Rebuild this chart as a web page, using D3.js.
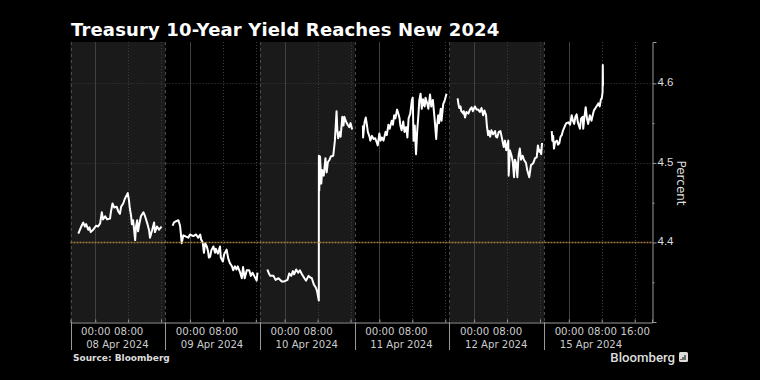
<!DOCTYPE html>
<html>
<head>
<meta charset="utf-8">
<script src="https://cdn.jsdelivr.net/npm/d3@7"></script>
<style>
  html, body { margin: 0; padding: 0; background: #000; }
  svg { display: block; }
  text { font-family: "DejaVu Sans", sans-serif; }
</style>
</head>
<body>
<div id="chart-container"></div>
<script>
// Session labels, one per trading day
const dayLabels = ["08 Apr 2024", "09 Apr 2024", "10 Apr 2024", "11 Apr 2024", "12 Apr 2024", "15 Apr 2024"];
const sessionHours = 23; // a session runs 18:00 to 17:00
const lastHour = 141.2;

// Tick positions as hours after the session open
const clockTicks = [[6, "00:00"], [14, "08:00"], [22, "16:00"]];
const yTicks = [4.4, 4.5, 4.6];
const yMinorTicks = [4.35, 4.45, 4.55];
const referenceYield = 4.4;

// Yield readings per session: [hours after open, percent]
const apr08 = [[1.9,4.411],[2.2,4.415],[2.7,4.421],[3.1,4.425],[3.5,4.420],[3.8,4.423],[4.3,4.416],[4.6,4.419],[4.9,4.413],[5.5,4.416],[6.2,4.421],[6.7,4.420],[7.2,4.424],[7.6,4.438],[7.9,4.429],[8.4,4.433],[8.9,4.429],[9.6,4.430],[9.8,4.438],[10.2,4.449],[10.6,4.444],[11.2,4.445],[11.6,4.439],[12.0,4.436],[12.3,4.445],[12.8,4.449],[13.2,4.455],[13.9,4.462],[14.2,4.453],[14.4,4.443],[14.7,4.434],[14.9,4.423],[15.2,4.428],[15.7,4.403],[15.9,4.420],[16.2,4.428],[16.4,4.414],[16.6,4.420],[17.1,4.433],[17.7,4.438],[18.1,4.433],[18.7,4.423],[19.1,4.415],[19.3,4.406],[19.8,4.415],[20.3,4.425],[20.5,4.413],[21.0,4.420],[21.5,4.416],[22.1,4.420]];
const apr09 = [[1.8,4.421],[2.1,4.425],[2.4,4.426],[3.2,4.428],[3.6,4.421],[3.8,4.411],[4.0,4.399],[4.4,4.409],[4.8,4.408],[5.6,4.406],[6.0,4.410],[6.8,4.408],[7.5,4.410],[8.0,4.406],[8.5,4.410],[8.7,4.404],[9.1,4.400],[9.4,4.387],[9.7,4.399],[10.1,4.395],[10.4,4.389],[10.6,4.381],[10.9,4.382],[11.2,4.390],[11.7,4.395],[12.1,4.387],[12.3,4.392],[12.8,4.386],[13.3,4.395],[13.5,4.381],[14.0,4.376],[14.3,4.385],[14.9,4.391],[15.3,4.380],[15.7,4.374],[16.2,4.370],[16.5,4.365],[16.9,4.370],[17.3,4.366],[17.6,4.370],[18.2,4.362],[18.6,4.355],[18.9,4.369],[19.3,4.355],[19.8,4.365],[20.4,4.365],[20.8,4.358],[21.2,4.362],[21.6,4.358],[22.2,4.352],[22.4,4.362]];
const apr10 = [[1.8,4.366],[2.1,4.362],[2.5,4.358],[3.3,4.358],[3.8,4.353],[4.5,4.355],[5.3,4.351],[5.9,4.351],[6.3,4.352],[6.7,4.353],[7.1,4.361],[7.6,4.358],[8.0,4.364],[8.3,4.360],[8.8,4.366],[9.3,4.362],[9.7,4.365],[10.2,4.360],[10.8,4.355],[11.2,4.352],[11.8,4.358],[12.2,4.356],[12.6,4.355],[13.1,4.347],[13.6,4.343],[13.9,4.338],[14.3,4.327],[14.31,4.509],[14.4,4.465],[14.6,4.508],[14.9,4.474],[15.1,4.491],[15.5,4.484],[15.9,4.506],[16.2,4.488],[16.5,4.501],[16.9,4.504],[17.2,4.508],[17.8,4.509],[18.2,4.528],[18.6,4.565],[18.8,4.541],[19.0,4.531],[19.4,4.539],[19.6,4.533],[20.0,4.558],[20.3,4.547],[20.5,4.558],[20.9,4.552],[21.3,4.548],[21.7,4.545],[22.0,4.550],[22.4,4.542]];
const apr11 = [[2.0,4.547],[2.05,4.532],[2.4,4.551],[2.7,4.557],[3.0,4.547],[3.2,4.539],[3.6,4.533],[3.8,4.528],[4.2,4.534],[4.6,4.530],[5.0,4.531],[5.4,4.525],[5.6,4.522],[6.0,4.537],[6.3,4.528],[6.6,4.532],[7.0,4.528],[7.5,4.539],[7.8,4.535],[8.2,4.548],[8.5,4.543],[9.0,4.553],[9.3,4.548],[9.6,4.560],[9.9,4.556],[10.3,4.567],[10.6,4.562],[10.9,4.556],[11.1,4.547],[11.4,4.541],[11.8,4.552],[12.1,4.539],[12.5,4.545],[12.8,4.532],[13.1,4.556],[13.5,4.562],[13.9,4.579],[14.1,4.582],[14.3,4.528],[14.6,4.547],[14.9,4.511],[15.2,4.541],[15.5,4.562],[15.7,4.579],[16.0,4.587],[16.3,4.568],[16.6,4.580],[17.0,4.571],[17.2,4.582],[17.6,4.575],[17.9,4.568],[18.3,4.586],[18.6,4.571],[19.0,4.579],[19.4,4.556],[19.8,4.530],[20.0,4.547],[20.3,4.560],[20.5,4.550],[20.9,4.568],[21.1,4.553],[21.5,4.574],[21.9,4.579],[22.3,4.587]];
const apr12 = [[2.0,4.581],[2.2,4.574],[2.4,4.569],[2.7,4.571],[2.9,4.565],[3.4,4.562],[3.5,4.565],[3.8,4.557],[4.15,4.564],[4.6,4.562],[5.0,4.567],[5.4,4.570],[5.7,4.565],[6.2,4.571],[6.6,4.567],[7.0,4.567],[7.4,4.564],[7.8,4.569],[8.2,4.560],[8.5,4.566],[8.9,4.560],[9.1,4.547],[9.4,4.535],[9.6,4.540],[9.9,4.533],[10.2,4.541],[10.6,4.536],[11.1,4.540],[11.3,4.533],[11.6,4.532],[12.0,4.539],[12.4,4.540],[12.8,4.530],[13.2,4.520],[13.5,4.528],[13.8,4.516],[14.3,4.528],[14.4,4.484],[14.7,4.516],[15.1,4.509],[15.4,4.501],[15.7,4.482],[15.9,4.504],[16.2,4.500],[16.5,4.482],[16.8,4.509],[17.1,4.518],[17.4,4.504],[17.8,4.509],[18.1,4.504],[18.6,4.500],[18.9,4.491],[19.4,4.482],[19.8,4.497],[20.4,4.500],[20.8,4.506],[21.2,4.507],[21.5,4.522],[21.8,4.514],[22.0,4.516],[22.3,4.511],[22.5,4.525]];
const apr15 = [[1.85,4.540],[2.0,4.528],[2.2,4.534],[2.4,4.518],[2.65,4.526],[3.1,4.528],[3.4,4.523],[3.7,4.525],[4.0,4.533],[4.3,4.535],[4.6,4.541],[5.1,4.547],[5.4,4.550],[5.9,4.551],[6.3,4.548],[6.7,4.560],[7.0,4.553],[7.3,4.549],[7.6,4.558],[7.9,4.561],[8.2,4.551],[8.7,4.543],[9.0,4.556],[9.4,4.558],[9.5,4.543],[9.8,4.558],[10.1,4.570],[10.4,4.556],[10.7,4.549],[11.1,4.560],[11.5,4.553],[11.9,4.562],[12.1,4.566],[12.6,4.570],[13.2,4.575],[13.5,4.571],[13.8,4.580],[14.0,4.581],[14.2,4.589],[14.25,4.623],[14.3,4.597]];
const sessions = [apr08, apr09, apr10, apr11, apr12, apr15];

const width = 760, height = 380;
const margin = { top: 42, right: 108, bottom: 58, left: 70.5 };
const innerRight = width - margin.right;
const innerBottom = height - margin.bottom;

const svg = d3.select("#chart-container").append("svg")
  .attr("width", width)
  .attr("height", height)
  .style("background", "#000");

const x = d3.scaleLinear().domain([0, lastHour]).range([margin.left, innerRight]);
const y = d3.scaleLinear().domain([4.30, 4.652]).range([innerBottom, margin.top]);

// Title
svg.append("text")
  .attr("x", 71)
  .attr("y", 36)
  .attr("fill", "#fff")
  .attr("font-size", 18)
  .attr("font-weight", "bold")
  .attr("letter-spacing", 0.15)
  .text("Treasury 10-Year Yield Reaches New 2024");

// Shaded alternate sessions
svg.append("g").selectAll("rect")
  .data(dayLabels.map((d, i) => i).filter(i => i % 2 === 0))
  .enter().append("rect")
  .attr("x", i => x(i * sessionHours))
  .attr("y", margin.top)
  .attr("width", i => x((i + 1) * sessionHours) - x(i * sessionHours))
  .attr("height", innerBottom - margin.top)
  .attr("fill", "#1a1a1a");

// Vertical grid lines
const allTicks = dayLabels.flatMap((d, i) =>
  clockTicks.map(t => ({ hour: i * sessionHours + t[0], label: t[1], day: i })));

svg.append("g").selectAll("line")
  .data(allTicks)
  .enter().append("line")
  .attr("x1", d => Math.round(x(d.hour)) + 0.5)
  .attr("x2", d => Math.round(x(d.hour)) + 0.5)
  .attr("y1", margin.top)
  .attr("y2", innerBottom)
  .attr("stroke", d => d.label === "00:00" ? "#404040" : "#3c3c3c")
  .attr("stroke-width", 1)
  .attr("stroke-dasharray", d => d.label === "00:00" ? null : "1,2");

// Session separators, dashed inside the plot and solid below it
svg.append("g").selectAll("line")
  .data(dayLabels.map((d, i) => i))
  .enter().append("line")
  .attr("x1", i => Math.round(x(i * sessionHours)) + 0.5)
  .attr("x2", i => Math.round(x(i * sessionHours)) + 0.5)
  .attr("y1", margin.top)
  .attr("y2", innerBottom)
  .attr("stroke", "#4a4a4a")
  .attr("stroke-dasharray", "3,3");

// Horizontal grid lines
svg.append("g").selectAll("line")
  .data(yTicks.filter(d => d !== referenceYield))
  .enter().append("line")
  .attr("x1", margin.left)
  .attr("x2", innerRight)
  .attr("y1", d => Math.round(y(d)) + 0.5)
  .attr("y2", d => Math.round(y(d)) + 0.5)
  .attr("stroke", "#3c3c3c")
  .attr("stroke-dasharray", "1,2");

// Yield line, one path per session so the gaps stay open
const line = d3.line()
  .x(d => d.x)
  .y(d => y(d.v));

svg.append("g").selectAll("path")
  .data(sessions.map((s, i) => s.map(d => ({ x: x(i * sessionHours + d[0]), v: d[1] }))))
  .enter().append("path")
  .attr("d", line)
  .attr("fill", "none")
  .attr("stroke", "#fff")
  .attr("stroke-width", 2)
  .attr("stroke-linejoin", "round");

// Reference level
svg.append("line")
  .attr("x1", margin.left)
  .attr("x2", innerRight)
  .attr("y1", Math.round(y(referenceYield)) + 0.5)
  .attr("y2", Math.round(y(referenceYield)) + 0.5)
  .attr("stroke", "#a87d3f")
  .attr("stroke-width", 1.5)
  .attr("stroke-dasharray", "2,1");

// Right axis
const yAxis = svg.append("g")
  .attr("transform", `translate(${innerRight + 0.5},0)`)
  .call(d3.axisRight(y).tickValues(yTicks).tickSize(4).tickPadding(1).tickFormat(d3.format(".1f")));
yAxis.selectAll("text")
  .attr("font-size", 11.5)
  .attr("fill", "#ddd")
  .attr("dy", "0.2em")
  .style("font-family", '"Liberation Sans", sans-serif');
yAxis.selectAll("line").attr("stroke", "#999");
yAxis.select(".domain").attr("stroke", "#999");

svg.append("g")
  .attr("transform", `translate(${innerRight + 0.5},0)`)
  .call(d3.axisRight(y).tickValues(yMinorTicks).tickSize(2).tickFormat(""))
  .call(g => g.select(".domain").remove())
  .selectAll("line").attr("stroke", "#999");

svg.append("text")
  .attr("transform", `translate(677,183) rotate(90)`)
  .attr("text-anchor", "middle")
  .attr("fill", "#ddd")
  .attr("font-size", 12)
  .text("Percent");

// Bottom axis: clock labels come from the axis, date labels sit under them
const visibleLabel = d => d.label !== "16:00" || d.day === dayLabels.length - 1;
const xAxis = svg.append("g")
  .attr("transform", `translate(0,${innerBottom + 0.5})`)
  .call(d3.axisBottom(x)
    .tickValues(allTicks.map(d => d.hour))
    .tickSize(-3)
    .tickPadding(5)
    .tickFormat((h, i) => visibleLabel(allTicks[i]) ? allTicks[i].label : ""));
xAxis.selectAll("text").attr("font-size", 10.2).attr("fill", "#ccc").style("font-family", '"DejaVu Sans", sans-serif');
xAxis.selectAll("line").attr("stroke", "#999");
xAxis.select(".domain").attr("stroke", "#999");

svg.append("g").selectAll("line")
  .data(dayLabels.map((d, i) => i))
  .enter().append("line")
  .attr("x1", i => Math.round(x(i * sessionHours)) + 0.5)
  .attr("x2", i => Math.round(x(i * sessionHours)) + 0.5)
  .attr("y1", innerBottom)
  .attr("y2", 350)
  .attr("stroke", "#999");

svg.append("g").selectAll("text")
  .data(dayLabels)
  .enter().append("text")
  .attr("x", (d, i) => x(i * sessionHours + sessionHours / 2) - 0.5)
  .attr("y", 348)
  .attr("text-anchor", "middle")
  .attr("fill", "#ccc")
  .attr("font-size", 10.1)
  .text(d => d);

// Footer
svg.append("text")
  .attr("x", 73)
  .attr("y", 361)
  .attr("fill", "#ddd")
  .attr("font-size", 9)
  .attr("font-weight", "bold")
  .text("Source: Bloomberg");

svg.append("text")
  .attr("x", 675)
  .attr("y", 362)
  .attr("text-anchor", "end")
  .attr("fill", "#ddd")
  .attr("font-size", 13.2)
  .attr("font-weight", 500)
  .style("font-family", 'Roboto, sans-serif')
  .text("Bloomberg");

// Small logo tile next to the wordmark
const logo = svg.append("g").attr("transform", "translate(679,352)");
logo.append("rect").attr("width", 9).attr("height", 10).attr("rx", 1.5).attr("fill", "#ddd");
logo.selectAll("line")
  .data([[2, 7], [4, 5], [6, 3]])
  .enter().append("line")
  .attr("x1", d => d[0]).attr("x2", d => d[0])
  .attr("y1", 8).attr("y2", d => d[1])
  .attr("stroke", "#000");
</script>
</body>
</html>
